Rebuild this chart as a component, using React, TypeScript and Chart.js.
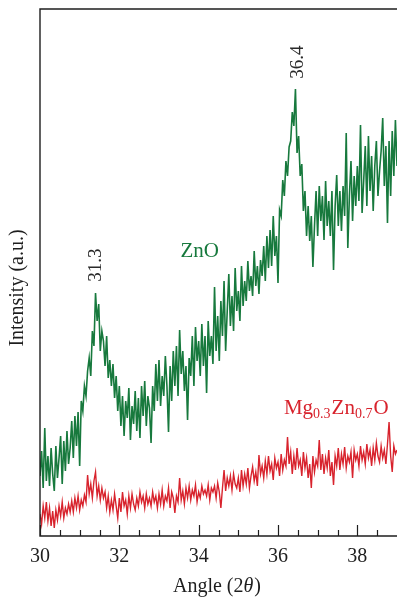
import React, { useEffect, useRef } from "react";
import { Chart, registerables } from "chart.js";

Chart.register(...registerables);

// Sampling of the diffraction scans (2θ, degrees)
const angleStart = 30;
const angleStep = 0.04;

// ZnO intensity (a.u.)
const znoIntensity = [
  60, 85, 48, 108, 55,
  80, 50, 88, 62, 45,
  90, 58, 78, 100, 52,
  95, 65, 105, 72, 88,
  115, 78, 120, 90, 124,
  70, 135, 125, 150, 140,
  165, 178, 160, 205, 190,
  243, 215, 232, 185, 205,
  195, 170, 200, 158, 176,
  150, 172, 138, 160, 125,
  150, 110, 140, 100, 135,
  118, 148, 96, 130, 112,
  145, 105, 138, 98, 150,
  120, 155, 110, 140, 128,
  93, 150, 125, 172, 135,
  176, 130, 160, 140, 180,
  150, 104, 170, 135, 185,
  150, 190, 140, 206, 162,
  185, 145, 170, 116, 178,
  160, 200, 150, 209, 175,
  195, 160, 212, 170, 200,
  143, 215, 180, 200, 172,
  249, 185, 220, 175, 235,
  200, 255, 185, 225, 262,
  210, 240, 205, 268, 225,
  245, 215, 270, 230, 255,
  235, 275, 245, 260, 240,
  285, 250, 270, 242, 276,
  260, 290, 255, 300, 268,
  306, 270, 320, 280, 300,
  253, 326, 320, 356, 340,
  375, 360, 389, 395, 424,
  410, 447, 383, 400, 360,
  372, 325, 345, 300, 330,
  295, 320, 269, 310, 345,
  300, 350, 315, 340, 296,
  355, 310, 335, 300, 345,
  266, 330, 361, 310, 345,
  305, 350, 320, 403, 288,
  340, 375, 315, 360, 330,
  370, 335, 411, 323, 355,
  390, 330, 400, 345, 380,
  325, 370, 395, 340, 365,
  385, 418, 350, 390, 313,
  395, 340, 405, 360, 416,
  370,
];

// Mg0.3Zn0.7O intensity (a.u.)
const mgznoIntensity = [
  22, 12, 30, 18, 34,
  15, 28, 10, 25, 8,
  26, 16, 30, 20, 34,
  18, 28, 22, 32, 24,
  35, 24, 38, 28, 40,
  26, 36, 30, 41, 34,
  61, 42, 52, 38, 55,
  64, 40, 50, 36, 48,
  38, 44, 28, 40, 24,
  36, 26, 42, 30, 18,
  38, 24, 44, 30, 36,
  22, 40, 28, 42, 32,
  26, 38, 30, 44, 34,
  40, 28, 42, 32, 38,
  30, 44, 34, 40, 28,
  42, 32, 46, 30, 40,
  35, 48, 28, 44, 38,
  23, 40, 34, 58, 36,
  45, 32, 48, 38, 50,
  36, 46, 40, 51, 34,
  44, 38, 50, 42, 46,
  40, 51, 36, 48, 44,
  50, 38, 53, 44, 28,
  48, 66, 45, 58, 50,
  60, 46, 62, 52, 48,
  58, 44, 66, 50, 62,
  52, 68, 48, 60, 69,
  55, 64, 50, 81, 62,
  70, 58, 75, 62, 80,
  65, 72, 56, 78, 68,
  74, 60, 82, 66, 76,
  70, 99, 72, 84, 62,
  80, 66, 88, 70, 76,
  60, 84, 68, 78, 58,
  72, 48, 80, 64, 76,
  70, 96, 66, 82, 62,
  78, 68, 86, 60, 74,
  51, 80, 70, 88, 66,
  82, 72, 89, 68, 80,
  74, 84, 58, 86, 76,
  82, 70, 90, 76, 84,
  72, 92, 78, 86, 70,
  88, 76, 93, 80, 74,
  90, 78, 86, 72, 92,
  114, 80, 64, 90, 82,
  86,
];

const xMin = 30;
const xMax = 39;
const yMin = 0;
const yMax = 527;
const xTickValues = [30, 32, 34, 36, 38];
const minorTickValues = [30.5, 31, 31.5, 32.5, 33, 33.5, 34.5, 35, 35.5, 36.5, 37, 37.5, 38.5];

// peak annotations: label, angle, intensity at label centre
const peakLabels = ["31.3", "36.4"];
const peakLabelAngles = [31.38, 36.48];
const peakLabelIntensity = [271, 474];

const xTitle = ["Angle (2", "θ", ")"];
const yTitle = "Intensity (a.u.)";

const GREEN = "#17793d";
const RED = "#d8232d";
const INK = "#1e1e1e";
const SERIF = "'Liberation Serif', 'Times New Roman', serif";

const toPoints = (vals: number[]) =>
  vals.map((v, i) => ({ x: +(angleStart + i * angleStep).toFixed(2), y: v }));

const decorPlugin = {
  id: "decor",
  afterDraw(chart: any) {
    const { ctx, chartArea, scales } = chart;
    const xs = scales.x;
    const ys = scales.y;
    const { left, right, top, bottom } = chartArea;
    ctx.save();
    // frame
    ctx.strokeStyle = INK;
    ctx.lineWidth = 1.4;
    ctx.beginPath();
    ctx.moveTo(right + 2, top);
    ctx.lineTo(left, top);
    ctx.lineTo(left, bottom);
    ctx.lineTo(right + 2, bottom);
    ctx.stroke();
    // ticks (inward)
    ctx.lineWidth = 1.2;
    ctx.beginPath();
    xTickValues.forEach((v) => {
      const px = Math.round(xs.getPixelForValue(v)) + 0.5;
      ctx.moveTo(px, bottom);
      ctx.lineTo(px, bottom - 11);
    });
    minorTickValues.forEach((v) => {
      const px = Math.round(xs.getPixelForValue(v)) + 0.5;
      ctx.moveTo(px, bottom);
      ctx.lineTo(px, bottom - 6);
    });
    ctx.stroke();

    // peak labels
    ctx.fillStyle = "#2a2a2a";
    ctx.font = `19px ${SERIF}`;
    ctx.textAlign = "center";
    ctx.textBaseline = "middle";
    peakLabels.forEach((t, i) => {
      const px = xs.getPixelForValue(peakLabelAngles[i]);
      const py = ys.getPixelForValue(peakLabelIntensity[i]);
      ctx.save();
      ctx.translate(px, py);
      ctx.rotate(-Math.PI / 2);
      ctx.fillText(t, 0, 1);
      ctx.restore();
    });

    // series labels
    ctx.textAlign = "left";
    ctx.textBaseline = "alphabetic";
    ctx.fillStyle = GREEN;
    ctx.font = `21px ${SERIF}`;
    ctx.fillText("ZnO", xs.getPixelForValue(33.54), ys.getPixelForValue(279));

    ctx.fillStyle = RED;
    let cx = xs.getPixelForValue(36.15);
    const by = ys.getPixelForValue(122);
    const parts: [string, boolean][] = [
      ["Mg", false],
      ["0.3", true],
      ["Zn", false],
      ["0.7", true],
      ["O", false],
    ];
    parts.forEach(([t, sub]) => {
      ctx.font = sub ? `14px ${SERIF}` : `21px ${SERIF}`;
      ctx.fillText(t, cx, sub ? by + 4 : by);
      cx += ctx.measureText(t).width + (sub ? 1 : 0);
    });

    // axis titles
    ctx.fillStyle = INK;
    ctx.font = `20px ${SERIF}`;
    const w0 = ctx.measureText(xTitle[0]).width;
    ctx.font = `italic 20px ${SERIF}`;
    const w1 = ctx.measureText(xTitle[1]).width;
    ctx.font = `20px ${SERIF}`;
    const w2 = ctx.measureText(xTitle[2]).width;
    let tx = (left + right) / 2 - (w0 + w1 + w2) / 2 - 2;
    const ty = 592;
    ctx.fillText(xTitle[0], tx, ty);
    tx += w0;
    ctx.font = `italic 20px ${SERIF}`;
    ctx.fillText(xTitle[1], tx, ty);
    tx += w1 + 1;
    ctx.font = `20px ${SERIF}`;
    ctx.fillText(xTitle[2], tx, ty);

    ctx.save();
    ctx.translate(23, 288);
    ctx.rotate(-Math.PI / 2);
    ctx.textAlign = "center";
    ctx.fillText(yTitle, 0, 0);
    ctx.restore();

    ctx.restore();
  },
};

export default function App() {
  const ref = useRef<HTMLCanvasElement | null>(null);
  useEffect(() => {
    if (!ref.current) return;
    const chart = new Chart(ref.current, {
      type: "line",
      data: {
        datasets: [
          {
            label: "ZnO",
            data: toPoints(znoIntensity),
            borderColor: GREEN,
            borderWidth: 1.6,
            pointRadius: 0,
            tension: 0,
          },
          {
            label: "Mg0.3Zn0.7O",
            data: toPoints(mgznoIntensity),
            borderColor: RED,
            borderWidth: 1.4,
            pointRadius: 0,
            tension: 0,
          },
        ],
      },
      options: {
        animation: false,
        responsive: true,
        maintainAspectRatio: false,
        layout: { padding: { left: 0, right: 0, top: 9, bottom: 0 } },
        plugins: {
          legend: { display: false },
          tooltip: { enabled: false },
        },
        scales: {
          x: {
            type: "linear",
            min: xMin,
            max: xMax,
            grid: { display: false, drawTicks: false },
            border: { display: false },
            afterBuildTicks: (s: any) => {
              s.ticks = xTickValues.map((v) => ({ value: v }));
            },
            afterFit: (s: any) => {
              s.height = 63;
            },
            ticks: {
              padding: 9,
              color: INK,
              font: { family: SERIF, size: 20 },
              maxRotation: 0,
            },
          },
          y: {
            type: "linear",
            min: yMin,
            max: yMax,
            grid: { display: false, drawTicks: false },
            border: { display: false },
            ticks: { display: false },
            afterFit: (s: any) => {
              s.width = 40;
            },
          },
        },
      },
      plugins: [decorPlugin],
    });
    return () => chart.destroy();
  }, []);
  return (
    <div style={{ position: "fixed", left: 0, top: 0, width: 397, height: 599, background: "#fff" }}>
      <canvas ref={ref} />
    </div>
  );
}
